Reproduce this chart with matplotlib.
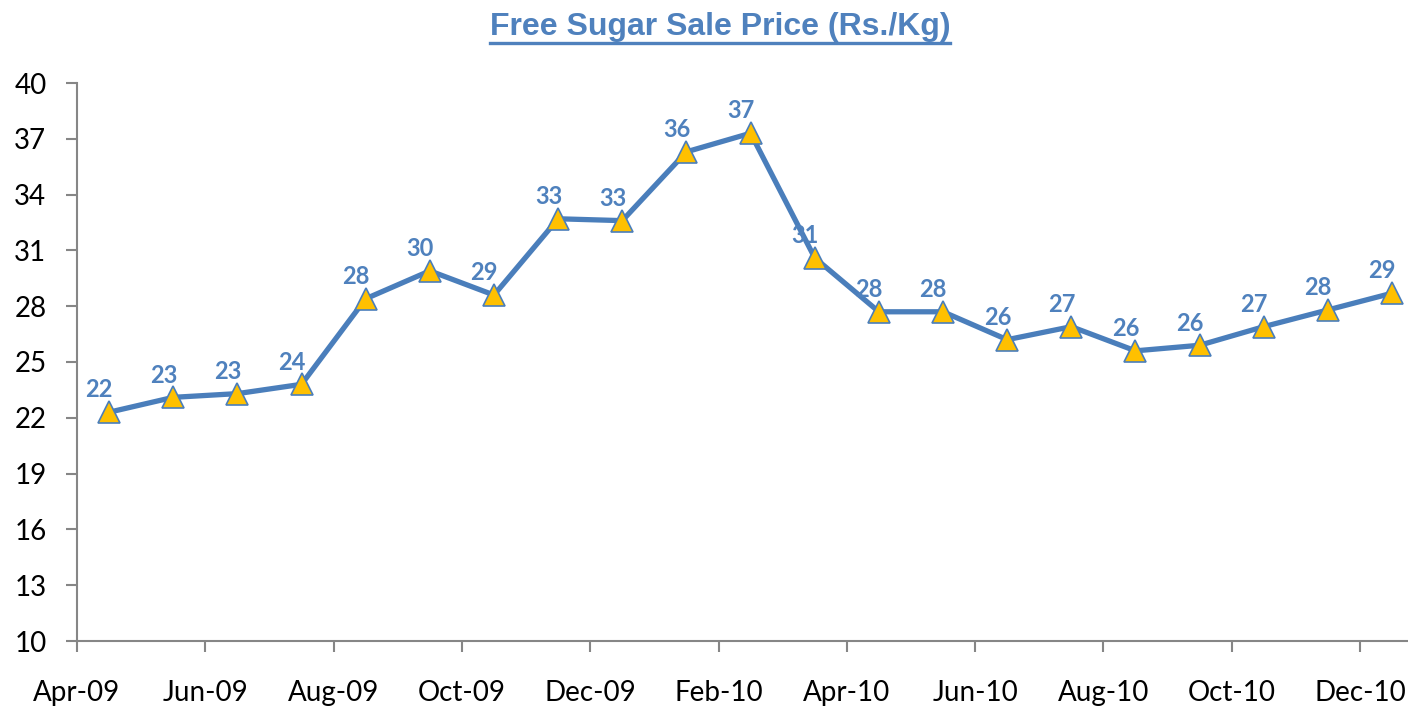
import matplotlib
matplotlib.use("Agg")
import matplotlib.pyplot as plt
from matplotlib.lines import Line2D

# monthly prices Apr-09 .. Dec-10
months = ["Apr-09", "May-09", "Jun-09", "Jul-09", "Aug-09", "Sep-09", "Oct-09",
          "Nov-09", "Dec-09", "Jan-10", "Feb-10", "Mar-10", "Apr-10", "May-10",
          "Jun-10", "Jul-10", "Aug-10", "Sep-10", "Oct-10", "Nov-10", "Dec-10"]
price = [22.3, 23.1, 23.3, 23.8, 28.4, 29.9, 28.6, 32.7, 32.6, 36.3, 37.3,
         30.6, 27.7, 27.7, 26.2, 26.9, 25.6, 25.9, 26.9, 27.8, 28.7]
tick_labels = months[::2]
yticks = list(range(10, 41, 3))

blue = "#4A7EBB"
label_blue = "#4F81BD"
gold = "#FFC000"
grey = "#868686"

fig = plt.figure(figsize=(14.08, 7.06), dpi=100)
# axes run past the right edge, like the reference
ax = fig.add_axes([77 / 1408, 1 - 641 / 706, 21 * 64.15 / 1408, 558 / 706])

xs = [i + 0.5 for i in range(len(price))]
ax.plot(xs, price, color=blue, lw=3.8, marker="^", ms=16,
        markerfacecolor=gold, markeredgecolor=blue, markeredgewidth=1.2,
        solid_joinstyle="round", clip_on=False, zorder=3)

for x, v in zip(xs, price):
    ax.annotate(f"{v:.0f}", (x, v), xytext=(-7, 16), textcoords="offset points",
                ha="center", va="center", fontsize=17, fontweight="bold",
                color=label_blue, family="Lato")

ax.set_xlim(0, 21)
ax.set_ylim(10, 40)
ax.set_xticks(range(0, 21, 2))
ax.set_xticklabels(tick_labels)
ax.set_yticks(yticks)

for s in ["top", "right"]:
    ax.spines[s].set_visible(False)
for s in ["left", "bottom"]:
    ax.spines[s].set_color(grey)
    ax.spines[s].set_linewidth(1.5)

ax.tick_params(axis="both", colors=grey, width=1.5, length=8, labelcolor="black",
               labelsize=20)
ax.tick_params(axis="x", pad=20)
ax.tick_params(axis="y", pad=14)
for t in ax.get_xticklabels() + ax.get_yticklabels():
    t.set_family("Lato")

title = fig.text(0.5113, 1 - 27 / 706, "Free Sugar Sale Price (Rs./Kg)", ha="center",
                 va="center", fontsize=23, fontweight="bold", color=label_blue,
                 family="Liberation Sans")

# underline the title
fig.canvas.draw()
bb = title.get_window_extent().transformed(fig.transFigure.inverted())
uy = bb.y0 - 1 / 706
fig.add_artist(Line2D([bb.x0, bb.x1], [uy, uy], transform=fig.transFigure,
                      color=label_blue, lw=2.4))

fig.savefig("out.png", dpi=100)
